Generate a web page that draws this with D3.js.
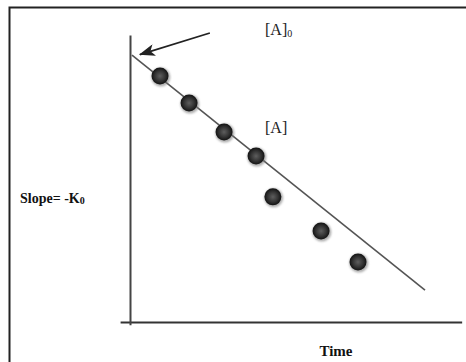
<!DOCTYPE html>
<html>
<head>
<meta charset="utf-8">
<script src="https://cdn.jsdelivr.net/npm/d3@7"></script>
<style>
  html, body { margin: 0; padding: 0; background: #fff; }
  svg { display: block; }
</style>
</head>
<body>
<svg id="chart" width="466" height="362"></svg>
<script>
// Zero-order kinetics: [A] vs time (arbitrary units)
const timePoints = [0.91, 1.79, 2.85, 3.82, 4.33, 5.79, 6.91];
const concPoints = [8.57, 7.63, 6.62, 5.78, 4.36, 3.17, 2.09];
const fitLineX = [0.06, 8.94];
const fitLineY = [9.30, 1.11];
const arrowX = [2.42, 0.30];
const arrowY = [10.07, 9.32];

const W = 466, H = 362;
const svg = d3.select("#chart");

const x = d3.scaleLinear().domain([0, 10]).range([130, 460]);
const y = d3.scaleLinear().domain([0, 10]).range([322, 35]);

// frame (top and left edges only)
svg.append("path")
  .attr("d", `M9.5,${H} L9.5,7.5 L${W},7.5`)
  .attr("fill", "none").attr("stroke", "#222").attr("stroke-width", 2);

const defs = svg.append("defs");
const grad = defs.append("radialGradient").attr("id", "ball")
  .attr("cx", "50%").attr("cy", "50%").attr("r", "55%");
grad.append("stop").attr("offset", "0%").attr("stop-color", "#5e5e5e");
grad.append("stop").attr("offset", "55%").attr("stop-color", "#333");
grad.append("stop").attr("offset", "100%").attr("stop-color", "#0a0a0a");
defs.append("filter").attr("id", "soft")
  .append("feGaussianBlur").attr("stdDeviation", 1.2);
defs.append("marker").attr("id", "head")
  .attr("viewBox", "0 0 16 12").attr("refX", 15).attr("refY", 6)
  .attr("markerUnits", "userSpaceOnUse")
  .attr("markerWidth", 16).attr("markerHeight", 12).attr("orient", "auto")
  .append("path").attr("d", "M16,6 L0,0 L4,6 L0,12 Z").attr("fill", "#222");

// axes (no ticks)
svg.append("g").attr("transform", `translate(0,${y(0)})`)
  .call(d3.axisBottom(d3.scaleLinear().domain([-0.3, 10.05]).range([x(-0.3), x(10.05)]))
    .ticks(0).tickSizeOuter(0))
  .call(g => g.select(".domain").attr("stroke", "#333").attr("stroke-width", 2));
svg.append("g").attr("transform", `translate(${x(0)},0)`)
  .call(d3.axisLeft(d3.scaleLinear().domain([-0.1, 10]).range([y(-0.1), y(10)]))
    .ticks(0).tickSizeOuter(0))
  .call(g => g.select(".domain").attr("stroke", "#444").attr("stroke-width", 2));

// fitted line
svg.append("line")
  .attr("x1", x(fitLineX[0])).attr("y1", y(fitLineY[0]))
  .attr("x2", x(fitLineX[1])).attr("y2", y(fitLineY[1]))
  .attr("stroke", "#555").attr("stroke-width", 1.6);

// points
const pts = d3.zip(timePoints, concPoints);
svg.append("g").selectAll("circle.sh").data(pts).join("circle")
  .attr("cx", d => x(d[0]) + 0.8).attr("cy", d => y(d[1]) + 1)
  .attr("r", 9.5).attr("fill", "#777").attr("opacity", 0.6).attr("filter", "url(#soft)");
svg.append("g").selectAll("circle.pt").data(pts).join("circle")
  .attr("cx", d => x(d[0])).attr("cy", d => y(d[1]))
  .attr("r", 8.5).attr("fill", "url(#ball)");

// arrow to [A]0
svg.append("line")
  .attr("x1", x(arrowX[0])).attr("y1", y(arrowY[0]))
  .attr("x2", x(arrowX[1])).attr("y2", y(arrowY[1]))
  .attr("stroke", "#222").attr("stroke-width", 1.8)
  .attr("marker-end", "url(#head)");

const serif = "'Liberation Serif', 'DejaVu Serif', serif";
const t0 = svg.append("text").attr("x", 265).attr("y", 35)
  .attr("font-family", serif).attr("font-size", 16).attr("fill", "#222");
t0.append("tspan").text("[A]");
t0.append("tspan").attr("font-size", 10).attr("dy", 2).text("0");

svg.append("text").attr("x", 265).attr("y", 133)
  .attr("font-family", serif).attr("font-size", 16).attr("fill", "#222").text("[A]");

const sl = svg.append("text").attr("x", 20).attr("y", 203)
  .attr("font-family", serif).attr("font-size", 14).attr("font-weight", "bold").attr("fill", "#111");
sl.append("tspan").text("Slope= -K");
sl.append("tspan").attr("font-size", 10).attr("dy", 1).text("0");

svg.append("text").attr("x", 336).attr("y", 356).attr("text-anchor", "middle")
  .attr("font-family", serif).attr("font-size", 15).attr("font-weight", "bold").attr("fill", "#111")
  .text("Time");
</script>
</body>
</html>
